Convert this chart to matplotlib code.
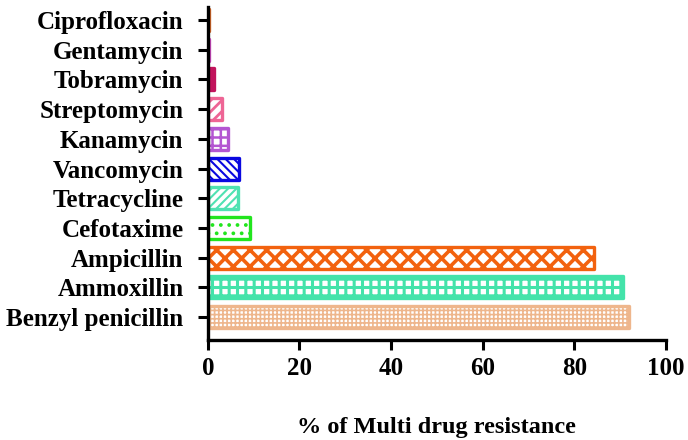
import matplotlib
matplotlib.use("Agg")
import matplotlib.pyplot as plt

drugs = ["Benzyl penicillin", "Ammoxillin", "Ampicillin", "Cefotaxime", "Tetracycline",
         "Vancomycin", "Kanamycin", "Streptomycin", "Tobramycin", "Gentamycin", "Ciprofloxacin"]
values = [92, 90.7, 84.2, 9.2, 6.6, 6.8, 4.5, 3.0, 1.3, 0.3, 0.3]
colors = ["#EEB68C", "#44E3AA", "#F2620F", "#22E51E", "#4FE2B2",
          "#0A08E0", "#B456D2", "#EE6595", "#C2135C", "#D34CC6", "#D8692A"]
hatches = ["++++", "++", "xx", "..", "////", "\\\\\\\\", "++", "///", "", "", ""]
hatch_lw = [1.2, 2.2, 2.6, 1.5, 1.5, 1.5, 1.8, 2.0, 1.0, 1.0, 1.0]

plt.rcParams['font.family'] = ['Liberation Serif', 'DejaVu Serif']
plt.rcParams['font.weight'] = 'bold'

fig = plt.figure(figsize=(6.88, 4.4), dpi=100)
ax = fig.add_axes([0.302, 0.227, 0.666, 0.757])

pos = list(range(len(drugs)))
for i in pos:
    with plt.rc_context({'hatch.linewidth': hatch_lw[i]}):
        b = ax.barh(pos[i], values[i], height=0.74, color="white", edgecolor=colors[i],
                    hatch=hatches[i] if hatches[i] else None, linewidth=2.4,
                    joinstyle='round', zorder=2)
        for p in b:
            if hasattr(p, "set_hatch_linewidth"):
                p.set_hatch_linewidth(hatch_lw[i])
            if not hatches[i]:
                p.set_facecolor(colors[i])

ax.set_xlim(0, 100)
ax.set_ylim(-0.78, 10.44)
ax.set_yticks(pos)
ax.set_yticklabels(drugs, fontsize=18, fontweight='bold')
ax.set_xticks([0, 20, 40, 60, 80, 100])
ax.set_xticklabels(["0", "20", "40", "60", "80", "100"], fontsize=18, fontweight='bold')
ax.tick_params(axis='both', direction='out', length=7.5, width=2.2, color='black')
ax.tick_params(axis='x', pad=5)
ax.tick_params(axis='y', pad=10)
for s in ['top', 'right']:
    ax.spines[s].set_visible(False)
for s in ['left', 'bottom']:
    ax.spines[s].set_linewidth(2.4)
ax.set_xlabel("% of Multi drug resistance", fontsize=17.5, fontweight='bold', labelpad=26)

fig.savefig("out.png", dpi=100)
